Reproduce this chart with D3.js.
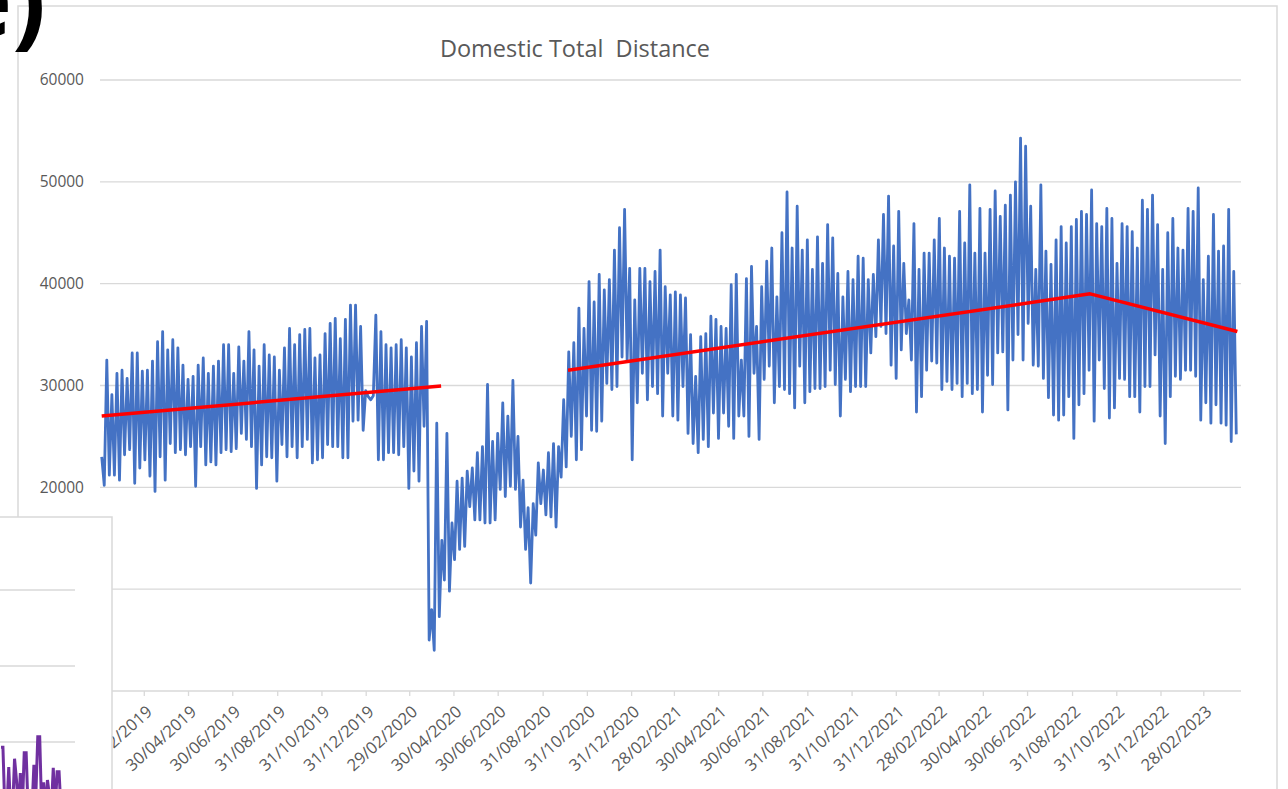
<!DOCTYPE html>
<html>
<head>
<meta charset="utf-8">
<script src="https://cdn.jsdelivr.net/npm/d3@7"></script>
<style>
  html, body { margin: 0; padding: 0; background: #fff; }
  svg { display: block; }
  svg text { font-family: "Open Sans", "Liberation Sans", sans-serif; }
</style>
</head>
<body>
<div id="grafico"></div>
<script>
// --- DATI ---
// readings every half week, starting at seriesStart (weekday peak / weekend low)
const seriesStart = "01/01/2019";
const stepHours = 84;

const distJan19toMar20 = [
  23000, 20200, 32500, 21200, 29100, 21200, 31200, 20700, 31500, 23200,
  30700, 23700, 33200, 20400, 33200, 21900, 31400, 22700, 31500, 21100,
  32400, 19600, 34300, 23000, 35300, 20700, 33500, 24300, 34500, 23400,
  33700, 23700, 32000, 23200, 30600, 24000, 30900, 20100, 32000, 24000,
  32700, 22200, 31200, 22500, 31900, 22200, 32400, 23400, 34000, 23700,
  34000, 23500, 31200, 23800, 33800, 25300, 32400, 24700, 35300, 24000,
  33500, 19900, 31900, 22200, 34000, 23000, 33000, 22900, 32800, 20600,
  31500, 24200, 33700, 23000, 35600, 24000, 34000, 22900, 35000, 24000,
  35500, 24700, 35600, 22400, 32700, 22700, 33000, 22900, 35100,
  24200, 36100, 24000, 36600, 24000, 34600, 22900, 36500, 22900, 37900,
  26500, 37900, 26600, 35800, 25600, 29500, 28900, 28600, 29000, 36900,
  22700, 35300, 22700, 34000, 23400, 33700, 23400, 34000, 23200, 34500,
  24000, 33700, 19900, 32800, 21600, 34200, 20600, 35800, 26000, 36300
];

const distMar20toOct20 = [
  5000, 8000, 4000, 26300, 7300, 14800, 10900, 25300, 9800, 16500,
  12900, 20600, 13900, 20900, 14200, 21600, 18100, 21900, 16800, 23400,
  16800, 24000, 16500, 30100, 16500, 24500, 16800, 25300, 19800, 28300,
  19100, 27000, 20100, 30500, 19800, 25000, 16100, 20700, 13900, 18000,
  10600, 18400, 15300, 22400, 18400, 21700, 17300, 23400, 17100, 24300,
  16100, 24000, 21000
];

const distOct20toJul21 = [
  28600, 22000, 33300, 25000, 34200, 22700, 37600, 23700, 35600, 27000,
  40200, 25600, 38200, 25500, 40900, 26500, 39400, 30200, 40400, 29600,
  43300, 29900, 45500, 32800, 47300, 32500, 41500, 22700, 38400, 28300,
  41500, 31200, 41500, 28600, 40200, 29900, 41200, 29200, 43300, 27000,
  39700, 31200, 38900, 27000, 39200, 26600, 38900, 29900, 38600, 25300,
  35000, 24300, 30900, 23400, 34800, 24700, 35100, 24000, 36800, 27300,
  36500, 24800, 35800, 27300, 35600, 26000, 39900, 24800, 40900, 27000,
  32500, 27000, 40500, 25000, 41700, 31200, 35800, 24700, 39700, 30600,
  42200, 31900, 43500, 28300, 38700, 29900, 45000, 29600, 49000
];

const distJul21toJun22 = [
  29200, 43500, 27800, 47600, 31900, 43300, 28300, 44300, 29400, 41400,
  29700, 44600, 29700, 42000, 29900, 45800, 31500, 44500, 30100, 41000,
  27000, 38700, 30600, 41200, 29400, 40400, 29900, 42700, 29900, 42500,
  29900, 40400, 33200, 40900, 34800, 44300, 35800, 46800, 35100, 48600,
  32000, 43700, 30700, 47100, 33500, 42000, 35100, 38400, 32500, 45900,
  27400, 41400, 28900, 43000, 31500, 43000, 32400, 44300, 32200, 46400,
  29600, 43500, 30400, 42700, 29600, 42500, 30200, 47100, 28900, 44000,
  30200, 49700, 29200, 43000, 29600, 47400, 27400, 43000, 31000, 47300,
  30100, 49100, 33200, 46600, 33300, 47700, 27600, 48700, 32500, 50000,
  35000
];

const distJun22toApr23 = [
  54300, 32500, 53500, 36100, 47600, 32000, 41400, 31900, 49700, 30700,
  43200, 28800, 41900, 27100, 44300, 26600, 45600, 27100, 44000, 28900,
  45600, 24800, 46300, 28100, 47100, 29200, 46800, 31500, 49200, 26500,
  45900, 32500, 45600, 29700, 47400, 26800, 46400, 27800, 42000, 30700,
  45900, 30600, 45600, 28900, 45100, 28900, 43500, 27400, 48200, 29900,
  47300, 29900, 48700, 33000, 45800, 27000, 41400, 24300, 45000, 28900,
  46400, 30900, 43500, 30600, 43300, 31500, 47400, 31500, 47100, 30900,
  49400, 26600, 40400, 28300, 42700, 26300, 46800, 28100, 43200, 26300,
  43700, 26100, 47300, 24500, 41200, 25200
];

// linee di tendenza (rosse)
const trendPreDates = ["01/01/2019", "13/04/2020"];
const trendPreValues = [27000, 29950];
const trendPostDates = ["05/10/2020", "25/09/2022", "16/04/2023"];
const trendPostValues = [31500, 39000, 35300];

// etichette asse X
const tickLabels = [
  "31/12/2018", "28/02/2019", "30/04/2019", "30/06/2019", "31/08/2019", "31/10/2019",
  "31/12/2019", "29/02/2020", "30/04/2020", "30/06/2020", "31/08/2020", "31/10/2020",
  "31/12/2020", "28/02/2021", "30/04/2021", "30/06/2021", "31/08/2021", "31/10/2021",
  "31/12/2021", "28/02/2022", "30/04/2022", "30/06/2022", "31/08/2022", "31/10/2022",
  "31/12/2022", "28/02/2023"
];
const yTicks = [0, 10000, 20000, 30000, 40000, 50000, 60000];

// grafico sovrapposto in basso a sinistra (viola)
const insetValues = [
  0.93, 0.93, 0.1, 0.1, 0.67, 0.1, 0.1, 0.78, 0.5, 0.1,
  0.59, 0.1, 0.86, 0.86, 0.1, 0.1, 0.1, 0.70, 0.3, 1.07,
  1.07, 0.1, 0.47, 0.1, 0.50, 0.3, 0.1, 0.66, 0.1, 0.61,
  0.61, 0.1
];
const insetTicks = [1, 2, 3];

// --- 1. IMPOSTAZIONI ---
const W = 1288, H = 789;
const plot = {left: 100, right: 1241, top: 80, bottom: 691};
const parseDate = d3.timeParse("%d/%m/%Y");
const FONT = '"Open Sans", "Liberation Sans", sans-serif';

const svg = d3.select("#grafico")
  .append("svg")
    .attr("width", W)
    .attr("height", H);

// bordo dell'area grafico
svg.append("path")
  .attr("d", `M18,${H + 2}V6H1277V${H + 2}`)
  .attr("fill", "none")
  .attr("stroke", "#d9d9d9")
  .attr("stroke-width", 1.5);

// --- 2. SCALE ---
const x = d3.scaleTime()
  .domain([parseDate("31/12/2018"), parseDate("21/04/2023")])
  .range([plot.left + 1, plot.right]);

const y = d3.scaleLinear()
  .domain([0, 60000])
  .range([plot.bottom, plot.top]);

// griglia
svg.append("g")
  .selectAll("line")
  .data(yTicks.filter(d => d > 0))
  .join("line")
    .attr("x1", plot.left)
    .attr("x2", plot.right)
    .attr("y1", d => y(d))
    .attr("y2", d => y(d))
    .attr("stroke", "#d9d9d9")
    .attr("stroke-width", 1.3);

// asse Y
const asseY = svg.append("g")
  .attr("transform", `translate(${plot.left},0)`)
  .call(d3.axisLeft(y).tickValues(yTicks).tickSize(0).tickPadding(16).tickFormat(d3.format("d")));
asseY.attr("font-family", FONT).attr("font-size", 15.5);
asseY.select(".domain").remove();
asseY.selectAll("text").attr("fill", "#595959");

// asse X
const tickDates = tickLabels.map(parseDate);
const asseX = svg.append("g")
  .attr("transform", `translate(0,${plot.bottom})`)
  .call(d3.axisBottom(x)
    .tickValues(tickDates)
    .tickSize(5)
    .tickFormat(d3.timeFormat("%d/%m/%Y")));
asseX.attr("font-family", FONT).attr("font-size", 16.5);
asseX.select(".domain")
  .attr("d", `M${plot.left},0H${plot.right}`)
  .attr("stroke", "#d9d9d9")
  .attr("stroke-width", 1.5);
asseX.selectAll(".tick line").attr("stroke", "#d9d9d9").attr("stroke-width", 1.3);
asseX.selectAll("text")
  .attr("fill", "#595959")
  .attr("text-anchor", "end")
  .attr("x", 0)
  .attr("y", 0)
  .attr("dy", "0.35em")
  .attr("transform", "translate(5,18) rotate(-42)");

// --- 3. SERIE ---
const distance = [].concat(distJan19toMar20, distMar20toOct20, distOct20toJul21,
                           distJul21toJun22, distJun22toApr23);
const start = parseDate(seriesStart);
const punti = distance.map((v, i) => ({date: d3.timeHour.offset(start, i * stepHours), value: v}));

const linea = d3.line()
  .x(d => x(d.date))
  .y(d => y(d.value));

svg.append("path")
  .datum(punti)
  .attr("fill", "none")
  .attr("stroke", "#4472c4")
  .attr("stroke-width", 2.8)
  .attr("stroke-linejoin", "round")
  .attr("d", linea);

const trendPre = trendPreDates.map((d, i) => ({date: parseDate(d), value: trendPreValues[i]}));
const trendPost = trendPostDates.map((d, i) => ({date: parseDate(d), value: trendPostValues[i]}));

svg.selectAll(".trend")
  .data([trendPre, trendPost])
  .join("path")
    .attr("class", "trend")
    .attr("fill", "none")
    .attr("stroke", "#ff0000")
    .attr("stroke-width", 3.5)
    .attr("stroke-linejoin", "round")
    .attr("d", linea);

// titolo
svg.append("text")
  .attr("x", 575)
  .attr("y", 57)
  .attr("text-anchor", "middle")
  .attr("fill", "#595959")
  .style("font-size", "23.5px")
  .style("white-space", "pre")
  .text("Domestic Total  Distance");

// --- 4. GRAFICO SOVRAPPOSTO ---
const inset = svg.append("g");
inset.append("rect")
  .attr("x", -2)
  .attr("y", 517)
  .attr("width", 114)
  .attr("height", H - 515)
  .attr("fill", "#fff")
  .attr("stroke", "#d9d9d9")
  .attr("stroke-width", 1.5);

const insetY = d3.scaleLinear().domain([0, 3]).range([818, 590]);
const insetX = d3.scaleLinear().domain([0, insetValues.length - 1]).range([1, 61]);

inset.selectAll("line")
  .data(insetTicks)
  .join("line")
    .attr("x1", 0)
    .attr("x2", 75)
    .attr("y1", d => insetY(d))
    .attr("y2", d => insetY(d))
    .attr("stroke", "#d9d9d9")
    .attr("stroke-width", 1.3);

inset.append("path")
  .datum(insetValues)
  .attr("fill", "none")
  .attr("stroke", "#7030a0")
  .attr("stroke-width", 3)
  .attr("d", d3.line().x((d, i) => insetX(i)).y(d => insetY(d)));

// etichetta "e)"
svg.append("text")
  .attr("x", 46)
  .attr("y", 36)
  .attr("text-anchor", "end")
  .attr("fill", "#000")
  .style("font-size", "100px")
  .style("font-weight", "bold")
  .text("e)");
</script>
</body>
</html>
